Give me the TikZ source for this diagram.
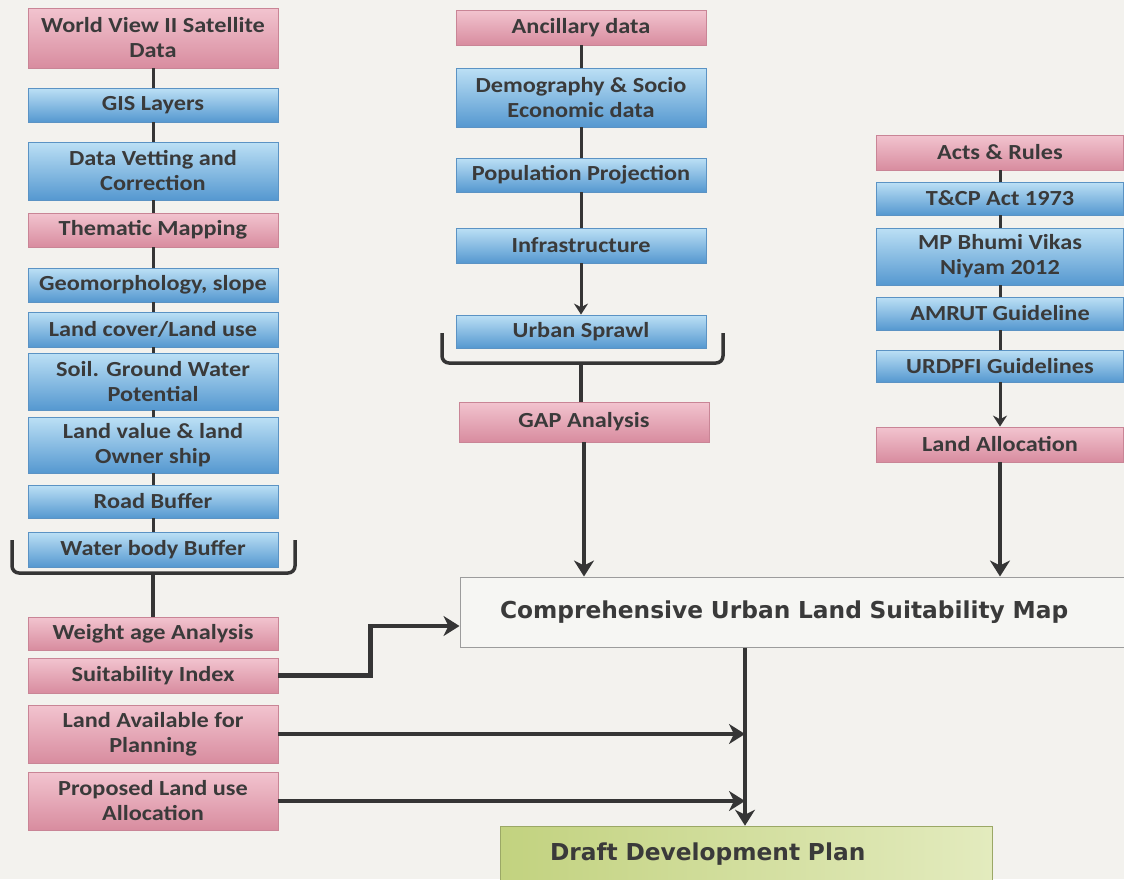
\documentclass[tikz,border=0pt]{standalone}
\usepackage{fontspec}
\setmainfont{Carlito}[FakeStretch=1.13]
\newfontfamily\wideface{DejaVu Sans}
\usetikzlibrary{arrows.meta}
\definecolor{bg}{HTML}{F3F2EE}
\definecolor{txt}{HTML}{3A3A3A}
\definecolor{ln}{HTML}{353535}
\definecolor{pinkT}{HTML}{F2C4CF}
\definecolor{pinkM}{HTML}{E9AEBD}
\definecolor{pinkB}{HTML}{D88C9F}
\definecolor{pinkD}{HTML}{C98596}
\definecolor{blueT}{HTML}{BCE0F5}
\definecolor{blueM}{HTML}{86C1E8}
\definecolor{blueB}{HTML}{5598D0}
\definecolor{blueD}{HTML}{5B93C4}
\definecolor{grnL}{HTML}{C2D27F}
\definecolor{grnR}{HTML}{E3EBBE}
\definecolor{cmpF}{HTML}{F6F6F3}
\definecolor{cmpD}{HTML}{9C9C9C}
\tikzset{
  box/.style={draw, line width=0.8pt, align=center, text=txt,
    font=\fontsize{21.5}{25}\selectfont\bfseries, inner sep=1pt, minimum width=250pt},
  pinkbox/.style={box, draw=pinkD, top color=pinkT, middle color=pinkM, bottom color=pinkB},
  bluebox/.style={box, draw=blueD, top color=blueT, middle color=blueM, bottom color=blueB},
  link/.style={draw=ln, line width=3pt},
  arr/.style={link, -{Stealth[length=11pt,width=14pt]}},
  bigarr/.style={draw=ln, line width=4.5pt, -{Stealth[length=16pt,width=20pt,inset=5pt]}},
  brace/.style={draw=ln, line width=3.5pt, rounded corners=7pt},
  mainfont/.style={font=\wideface\fontsize{23.3}{27}\selectfont\bfseries}
}
\begin{document}
\begin{tikzpicture}[x=1pt,y=-1pt]
\useasboundingbox (0,0) rectangle (1124,879);
\clip (0,0) rectangle (1124,879);
\fill[bg] (0,0) rectangle (1124,879);

% ---------- left column ----------
\node[pinkbox, minimum height=60pt] (wv)   at (153,38)    {World View II Satellite\\Data};
\node[bluebox, minimum height=34pt] (gis)  at (153,105)   {GIS Layers};
\node[bluebox, minimum height=58pt] (dv)   at (153,171)   {Data Vetting and\\Correction};
\node[pinkbox, minimum height=34pt] (tm)   at (153,230)   {Thematic Mapping};
\node[bluebox, minimum height=34pt] (geo)  at (153,285)   {Geomorphology, slope};
\node[bluebox, minimum height=35pt] (lc)   at (153,329.5) {Land cover/Land use};
\node[bluebox, minimum height=57pt] (soil) at (153,381.5) {Soil. Ground Water\\Potential};
\node[bluebox, minimum height=56pt] (lv)   at (153,445)   {Land value \& land\\Owner ship};
\node[bluebox, minimum height=33pt] (rb)   at (153,501.5) {Road Buffer};
\node[bluebox, minimum height=35pt] (wb)   at (153,549.5) {Water body Buffer};
\node[pinkbox, minimum height=33pt] (wa)   at (153,633.5) {Weight age Analysis};
\node[pinkbox, minimum height=35pt] (si)   at (153,675.5) {Suitability Index};
\node[pinkbox, minimum height=58pt] (la)   at (153,734)   {Land Available for\\Planning};
\node[pinkbox, minimum height=58pt] (pl)   at (153,801)   {Proposed Land use\\Allocation};

% ---------- middle column ----------
\node[pinkbox, minimum height=35pt] (anc)  at (581,27.5)  {Ancillary data};
\node[bluebox, minimum height=59pt] (demo) at (581,97.5)  {Demography \& Socio\\Economic data};
\node[bluebox, minimum height=34pt] (pop)  at (581,175)   {Population Projection};
\node[bluebox, minimum height=35pt] (inf)  at (581,245.5) {Infrastructure};
\node[bluebox, minimum height=33pt] (us)   at (581,331.5) {Urban Sprawl};
\node[pinkbox, minimum height=40pt] (gap)  at (584,422)   {GAP Analysis};

% ---------- right column ----------
\node[pinkbox, minimum width=247pt, minimum height=35pt] (ar)  at (1000,152.5) {Acts \& Rules};
\node[bluebox, minimum width=247pt, minimum height=33pt] (tcp) at (1000,198.5) {T\&CP Act 1973};
\node[bluebox, minimum width=247pt, minimum height=57pt] (mp)  at (1000,256.5) {MP Bhumi Vikas\\Niyam 2012};
\node[bluebox, minimum width=247pt, minimum height=33pt] (am)  at (1000,313.5) {AMRUT Guideline};
\node[bluebox, minimum width=247pt, minimum height=32pt] (ur)  at (1000,366)   {URDPFI Guidelines};
\node[pinkbox, minimum width=247pt, minimum height=35pt] (lal) at (1000,444.5) {Land Allocation};

% ---------- main boxes ----------
\node[draw=cmpD, fill=cmpF, line width=1pt, minimum width=670pt, minimum height=70pt,
      text width=590pt, inner xsep=40pt, align=left, text=txt, mainfont] (cmp) at (795,612)
      {Comprehensive Urban Land Suitability Map};
\node[draw=grnL!80!black, left color=grnL, right color=grnR, line width=0.6pt,
      minimum width=492pt, minimum height=56pt, text width=392pt, inner xsep=50pt,
      align=left, text=txt, mainfont] (ddp) at (746,854)
      {Draft Development Plan};

% ---------- connectors: left ----------
\foreach \a/\b in {wv/gis, gis/dv, dv/tm, tm/geo, geo/lc, lc/soil, soil/lv, lv/rb, rb/wb}
  \draw[link] (\a) -- (\b);
\draw[brace] (12,540) -- (12,573) -- (295,573) -- (295,540);
\coordinate (lb) at (153,573);
\draw[link, line width=3.5pt] (lb) -- (wa);

% ---------- connectors: middle ----------
\foreach \a/\b in {anc/demo, demo/pop, pop/inf}
  \draw[link] (\a) -- (\b);
\draw[arr] (inf) -- (us);
\draw[brace] (442,333) -- (442,363) -- (723,363) -- (723,333);
\coordinate (mb) at (581,363);
\draw[link, line width=3.5pt] (mb) -- (mb |- gap.north);
\draw[bigarr] (gap.south) -- (gap.south |- cmp.north);

% ---------- connectors: right ----------
\foreach \a/\b in {ar/tcp, tcp/mp, mp/am, am/ur}
  \draw[link] (\a) -- (\b);
\draw[arr] (ur) -- (lal);
\draw[bigarr] (lal.south) -- (lal.south |- cmp.north);

% ---------- connectors: bottom ----------
\coordinate (vx) at (745,0);
\draw[bigarr] (si.east) -- ++(92,0) |- ([yshift=-14pt]cmp.west);
\draw[bigarr] (cmp.south -| vx) -- (ddp.north -| vx);
\draw[bigarr] (la.east) -- (la.east -| vx);
\draw[bigarr] (pl.east) -- (pl.east -| vx);
\end{tikzpicture}
\end{document}
